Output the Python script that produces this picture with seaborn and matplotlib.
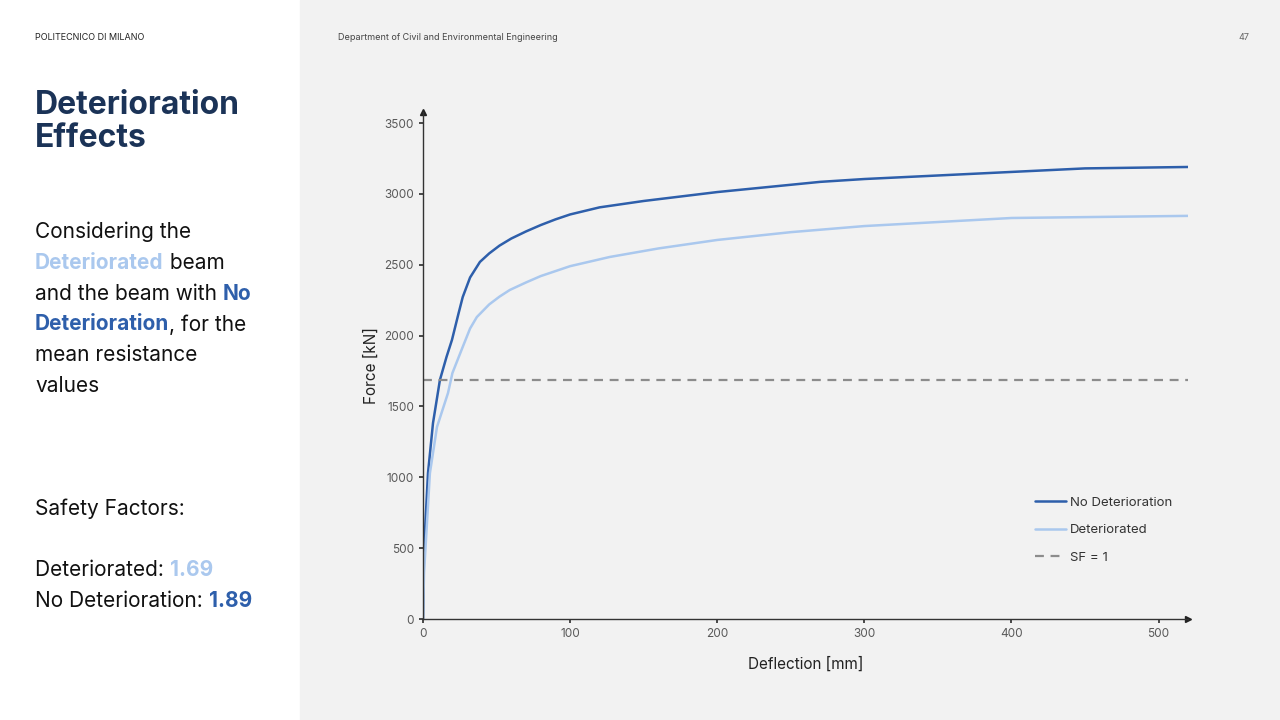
import matplotlib
matplotlib.use('Agg')
import matplotlib.pyplot as plt
import seaborn as sns
import pandas as pd

# curve readings (deflection mm, force kN)
nd_defl = [0, 0.7, 3.4, 6.8, 11.5, 16, 19.7, 24, 27, 32, 38.7, 45, 52, 60, 70, 80, 90, 100, 120, 150,
           200, 270, 300, 400, 450, 520]
nd_force = [0, 487, 1030, 1383, 1687, 1850, 1970, 2150, 2272, 2410, 2520, 2580, 2635, 2685, 2735, 2780,
            2820, 2855, 2905, 2950, 3013, 3085, 3105, 3155, 3180, 3190]
det_defl = [0, 0.7, 4.7, 9.5, 17, 20, 27, 32, 36.6, 45, 52, 59, 70, 80, 100, 127, 160, 200, 250, 300,
            400, 520]
det_force = [0, 325, 1030, 1355, 1595, 1736, 1920, 2050, 2131, 2220, 2275, 2322, 2375, 2420, 2490,
             2555, 2615, 2675, 2730, 2773, 2830, 2845]
sf_force = 1690

dark = '#2e5fab'
light = '#aac8ee'
navy = '#1b3357'

sns.set_theme(style='white')
plt.rcParams['font.family'] = ['Inter', 'DejaVu Sans']

fig = plt.figure(figsize=(12.8, 7.2), dpi=100)
fig.patch.set_facecolor('white')
fig.add_artist(plt.Rectangle((300 / 1280, 0), 980 / 1280, 1, transform=fig.transFigure,
                             color='#f2f2f2', zorder=0))

ax = fig.add_axes([423 / 1280, 1 - 619 / 720, 765 / 1280, 507 / 720])
ax.set_facecolor('#f2f2f2')

nd = pd.DataFrame({'x': nd_defl, 'y': nd_force})
det = pd.DataFrame({'x': det_defl, 'y': det_force})
sns.lineplot(data=nd, x='x', y='y', ax=ax, color=dark, lw=1.8, label='No Deterioration')
sns.lineplot(data=det, x='x', y='y', ax=ax, color=light, lw=1.8, label='Deteriorated')
ax.plot([0, 520], [sf_force, sf_force], ls=(0, (4, 3)), color='#8c8c8c', lw=1.6, label='SF = 1')

ax.set_xlim(0, 520)
ax.set_ylim(0, 3578)
ax.set_xticks([0, 100, 200, 300, 400, 500])
ax.set_yticks(range(0, 3501, 500))
ax.tick_params(axis='both', labelsize=8.5, colors='#595959', length=3, direction='out',
               left=True, bottom=True)
ax.tick_params(axis='both', color='#333333')
for s in ['top', 'right']:
    ax.spines[s].set_visible(False)
for s in ['left', 'bottom']:
    ax.spines[s].set_color('#333333')
    ax.spines[s].set_linewidth(1)
ax.plot(1, 0, '>', color='#222222', ms=5, transform=ax.transAxes, clip_on=False)
ax.plot(0, 1, '^', color='#222222', ms=5, transform=ax.transAxes, clip_on=False)
ax.set_xlabel('Deflection [mm]', fontsize=11, color='#222222', labelpad=12)
ax.set_ylabel('Force [kN]', fontsize=11, color='#222222', labelpad=4)

leg = ax.legend(loc='upper left', bbox_to_anchor=(0.785, 0.265), frameon=False,
                fontsize=9.5, handlelength=2.3, labelspacing=1.15, handletextpad=0.3)
for t in leg.get_texts():
    t.set_color('#333333')

# slide texts
fig.text(35 / 1280, 1 - 37 / 720, 'POLITECNICO DI MILANO', fontsize=6.5, color='#222222', va='center')
fig.text(338 / 1280, 1 - 37 / 720, 'Department of Civil and Environmental Engineering',
         fontsize=6.5, color='#444444', va='center')
fig.text(1238 / 1280, 1 - 37 / 720, '47', fontsize=6.5, color='#666666', va='center')
fig.text(35 / 1280, 1 - 122 / 720, 'Deterioration\nEffects', fontsize=23, fontweight='bold',
         color=navy, va='center', linespacing=1.05)

body = [
    [('Considering the', '#111111', 'normal')],
    [('Deteriorated', light, 'bold'), (' beam', '#111111', 'normal')],
    [('and the beam with ', '#111111', 'normal'), ('No', dark, 'bold')],
    [('Deterioration', dark, 'bold'), (', for the', '#111111', 'normal')],
    [('mean resistance', '#111111', 'normal')],
    [('values', '#111111', 'normal')],
]
renderer = fig.canvas.get_renderer()
y0 = 232
for i, line in enumerate(body):
    x = 35
    for txt, col, w in line:
        t = fig.text(x / 1280, 1 - (y0 + i * 30.8) / 720, txt, fontsize=15, color=col,
                     fontweight=w, va='center')
        x += t.get_window_extent(renderer).width
fig.text(35 / 1280, 1 - 509 / 720, 'Safety Factors:', fontsize=15, color='#111111', va='center')
for i, (lab, val, col) in enumerate([('Deteriorated: ', '1.69', light),
                                     ('No Deterioration: ', '1.89', dark)]):
    t = fig.text(35 / 1280, 1 - (570 + i * 31) / 720, lab, fontsize=15, color='#111111', va='center')
    w = t.get_window_extent(renderer).width
    fig.text((35 + w) / 1280, 1 - (570 + i * 31) / 720, val, fontsize=15, color=col,
             fontweight='bold', va='center')

fig.savefig('out.png', dpi=100)
